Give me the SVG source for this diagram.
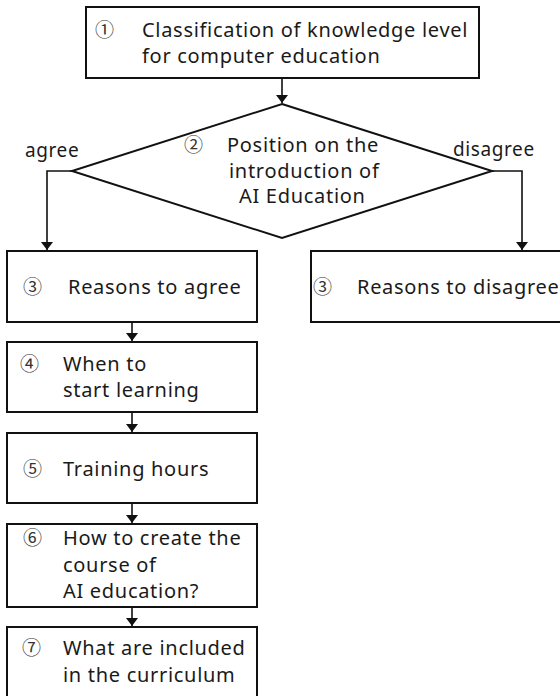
<svg xmlns="http://www.w3.org/2000/svg" width="560" height="696" viewBox="0 0 560 696">
<style>
  .box { fill: #ffffff; stroke: #111111; stroke-width: 2; }
  .t { font-family: "Noto Sans", "Noto Sans CJK KR", sans-serif; font-size: 20px; fill: #1a1a1a; letter-spacing: 0.7px; }
  .n { font-family: "Noto Sans CJK KR", "Noto Sans", sans-serif; font-size: 19px; fill: #333333; }
  .lbl { font-family: "Noto Sans", "Noto Sans CJK KR", sans-serif; font-size: 19px; fill: #1a1a1a; letter-spacing: 0.6px; }
  .c { fill: none; stroke: #111111; stroke-width: 1.6; marker-end: url(#ah); }
</style>
<defs>
  <marker id="ah" markerUnits="userSpaceOnUse" markerWidth="8" markerHeight="12" viewBox="0 0 8 12" refX="8" refY="6" orient="auto">
    <path d="M0,0 L8,6 L0,12 z" fill="#111111"/>
  </marker>
</defs>
<rect width="560" height="696" fill="#ffffff"/>

<g id="connectors">
  <path class="c" d="M282,78 L282,103"/>
  <path class="c" d="M72,171 L47,171 L47,250"/>
  <path class="c" d="M492,171 L522,171 L522,250"/>
  <path class="c" d="M132,322 L132,341"/>
  <path class="c" d="M132,412 L132,432"/>
  <path class="c" d="M132,503 L132,523"/>
  <path class="c" d="M132,607 L132,626"/>
</g>

<g id="node1">
  <rect class="box" x="86" y="7" width="393" height="71"/>
  <text class="n" x="95" y="37">①</text>
  <text class="t" x="142" y="37">Classification of knowledge level</text>
  <text class="t" x="142" y="63">for computer education</text>
</g>

<g id="node2">
  <polygon class="box" points="282,104 492,171 282,238 72,171"/>
  <text class="n" x="184" y="152">②</text>
  <text class="t" x="227" y="152">Position on the</text>
  <text class="t" x="229" y="178">introduction of</text>
  <text class="t" x="239" y="203">AI Education</text>
</g>

<g id="label-agree">
  <text class="lbl" x="25" y="157">agree</text>
</g>
<g id="label-disagree">
  <text class="lbl" x="453" y="156">disagree</text>
</g>

<g id="node3a">
  <rect class="box" x="7" y="251" width="250" height="71"/>
  <text class="n" x="23" y="294">③</text>
  <text class="t" x="68" y="294">Reasons to agree</text>
</g>

<g id="node3b">
  <rect class="box" x="311" y="251" width="253" height="71"/>
  <text class="n" x="313" y="294">③</text>
  <text class="t" x="357" y="294">Reasons to disagree</text>
</g>

<g id="node4">
  <rect class="box" x="7" y="342" width="250" height="70"/>
  <text class="n" x="20" y="371">④</text>
  <text class="t" x="63" y="371">When to</text>
  <text class="t" x="63" y="397">start learning</text>
</g>

<g id="node5">
  <rect class="box" x="7" y="433" width="250" height="70"/>
  <text class="n" x="23" y="476">⑤</text>
  <text class="t" x="63" y="476">Training hours</text>
</g>

<g id="node6">
  <rect class="box" x="7" y="524" width="250" height="83"/>
  <text class="n" x="23" y="545">⑥</text>
  <text class="t" x="63" y="545">How to create the</text>
  <text class="t" x="63" y="572">course of</text>
  <text class="t" x="63" y="598">AI education?</text>
</g>

<g id="node7">
  <rect class="box" x="7" y="627" width="250" height="75"/>
  <text class="n" x="22" y="655">⑦</text>
  <text class="t" x="63" y="655">What are included</text>
  <text class="t" x="63" y="682">in the curriculum</text>
</g>
</svg>
